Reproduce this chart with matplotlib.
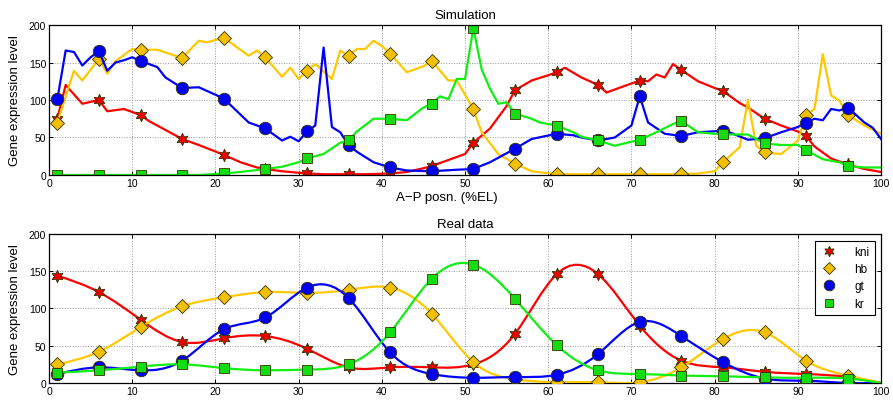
import numpy as np
import matplotlib.pyplot as plt
from matplotlib.path import Path
from matplotlib.patches import PathPatch
from matplotlib.lines import Line2D

plt.rcParams['font.family'] = ['Liberation Sans', 'DejaVu Sans']

# marker positions (every 5 %EL)
marker_x = list(range(1, 97, 5))

# ---- Simulation (top panel) ----
kni_sim_x = [1, 2, 4, 6, 7, 9, 11, 12, 14, 16, 18, 21, 23, 25, 26, 28, 31, 33, 36, 38, 41, 43, 45, 46, 48,
             50, 51, 53, 55, 56, 58, 60, 61, 62, 64, 66, 67, 69, 71, 72, 73, 74, 75, 76, 78, 80, 81, 83,
             84, 86, 88, 90, 91, 92, 94, 96, 98, 100]
kni_sim = [75, 120, 95, 100, 85, 88, 80, 72, 60, 48, 40, 27, 17, 10, 8, 5, 2, 1, 1, 1, 2, 4, 9, 12, 20,
           28, 43, 62, 92, 113, 126, 133, 137, 143, 130, 120, 110, 118, 126, 125, 134, 130, 148, 140, 125,
           116, 112, 96, 90, 75, 66, 58, 52, 38, 22, 14, 8, 4]

hb_sim_x = [1, 3, 4, 6, 7, 8, 10, 11, 13, 16, 18, 19, 21, 24, 25, 26, 28, 29, 30, 31, 32, 34, 35, 36, 37,
            38, 39, 40, 41, 43, 45, 46, 48, 49, 51, 52, 54, 56, 58, 61, 66, 71, 76, 78, 80, 81, 83, 84,
            85, 86, 88, 90, 91, 92, 93, 94, 95, 96, 98, 100]
hb_sim = [70, 139, 126, 155, 135, 152, 168, 167, 167, 156, 179, 177, 183, 159, 166, 157, 131, 143, 128,
          139, 148, 128, 166, 159, 168, 168, 179, 172, 162, 137, 145, 152, 126, 126, 88, 57, 28, 15, 5,
          1, 1, 1, 1, 2, 5, 17, 37, 100, 39, 30, 28, 46, 80, 88, 161, 106, 99, 80, 66, 55]

gt_sim_x = [1, 2, 3, 4, 5, 6, 7, 8, 9, 10, 11, 13, 14, 16, 18, 21, 24, 26, 28, 29, 30, 31, 32, 33, 34,
            35, 36, 37, 39, 41, 43, 46, 49, 51, 53, 56, 58, 61, 63, 64, 66, 68, 70, 71, 72, 74, 76, 78,
            81, 82, 84, 86, 88, 90, 91, 92, 93, 94, 95, 96, 98, 99, 100]
gt_sim = [101, 166, 164, 146, 157, 165, 139, 150, 153, 157, 152, 144, 130, 116, 117, 102, 70, 62, 46,
          51, 45, 58, 66, 170, 64, 57, 40, 31, 17, 10, 6, 5, 7, 8, 17, 35, 48, 55, 53, 50, 46, 50, 66,
          105, 70, 55, 52, 57, 59, 56, 47, 49, 57, 64, 70, 75, 73, 88, 86, 90, 70, 63, 48]

kr_sim_x = [1, 6, 11, 16, 18, 21, 23, 26, 28, 30, 31, 33, 35, 36, 37, 39, 41, 43, 45, 46, 47, 48, 49,
            50, 51, 52, 53, 54, 55, 56, 58, 59, 61, 63, 64, 66, 68, 71, 73, 75, 76, 78, 81, 84, 86, 88,
            90, 91, 93, 95, 96, 98, 100]
kr_sim = [0, 0, 0, 0, 0, 2, 4, 8, 11, 17, 22, 28, 43, 46, 58, 75, 75, 73, 90, 95, 105, 101, 128, 128,
          196, 141, 115, 95, 97, 82, 75, 70, 66, 57, 51, 46, 39, 47, 57, 68, 72, 57, 54, 54, 42, 40, 40,
          33, 21, 17, 12, 10, 10]

# ---- Real data (bottom panel), values at the markers, plus the end at 100 ----
real_x = marker_x + [100]
kni_real = [144, 122, 85, 55, 60, 63, 46, 21, 21, 21, 25, 66, 146, 146, 77, 30, 21, 15, 12, 8, 0]
hb_real = [25, 42, 75, 103, 115, 122, 121, 125, 128, 93, 28, 5, 1, 1, 1, 21, 59, 68, 30, 10, 0]
gt_real = [12, 21, 17, 30, 72, 88, 128, 114, 41, 12, 7, 8, 11, 39, 82, 63, 28, 6, 3, 0, 0]
kr_real = [14, 17, 22, 25, 20, 17, 18, 25, 68, 140, 159, 113, 51, 17, 12, 10, 9, 7.5, 7, 6, 0]

names = ['kni', 'hb', 'gt', 'kr']
line_colors = ['#ff0000', '#ffc800', '#0000ff', '#11ee11']
face_colors = ['#ee0000', '#f2c000', '#0000ee', '#11dd11']
markers = [(6, 1, 0), 'D', 'o', 's']
msizes = [9, 7, 9, 6.5]


def spline_path(x, y):
    # natural cubic spline through the points, drawn as bezier segments
    x = np.asarray(x, float)
    y = np.asarray(y, float)
    n = len(x)
    h = np.diff(x)
    A = np.zeros((n, n))
    r = np.zeros(n)
    A[0, 0] = A[-1, -1] = 1
    for i in range(1, n - 1):
        A[i, i - 1] = h[i - 1]
        A[i, i] = 2 * (h[i - 1] + h[i])
        A[i, i + 1] = h[i]
        r[i] = 6 * ((y[i + 1] - y[i]) / h[i] - (y[i] - y[i - 1]) / h[i - 1])
    M = np.linalg.solve(A, r)
    m = np.zeros(n)
    m[:-1] = np.diff(y) / h - h * (2 * M[:-1] + M[1:]) / 6
    m[-1] = (y[-1] - y[-2]) / h[-1] + h[-1] * (M[-2] + 2 * M[-1]) / 6
    verts = [(x[0], y[0])]
    codes = [Path.MOVETO]
    for i in range(n - 1):
        verts += [(x[i] + h[i] / 3, y[i] + m[i] * h[i] / 3),
                  (x[i + 1] - h[i] / 3, y[i + 1] - m[i + 1] * h[i] / 3),
                  (x[i + 1], y[i + 1])]
        codes += [Path.CURVE4] * 3
    return Path(verts, codes)


def style_axes(ax):
    ax.set_xlim(0, 100)
    ax.set_ylim(0, 200)
    ax.set_xticks(range(0, 101, 10))
    ax.set_yticks(range(0, 201, 50))
    ax.tick_params(direction='in', top=True, right=True, labelsize=7.5, length=3, width=0.7, pad=2)
    ax.grid(True, linestyle=':', color='#999999', linewidth=0.7)
    ax.set_axisbelow(True)
    for s in ax.spines.values():
        s.set_linewidth(0.9)
    ax.set_ylabel('Gene expression level', fontsize=9.5)
    ax.yaxis.set_label_coords(-0.034, 0.5)


fig = plt.figure(figsize=(8.93, 4.02), dpi=100)
ax1 = fig.add_axes([0.0549, 0.5622, 0.9317, 0.3731])
ax2 = fig.add_axes([0.0549, 0.0448, 0.9317, 0.3706])

# top panel
sim = [(kni_sim_x, kni_sim), (hb_sim_x, hb_sim), (gt_sim_x, gt_sim), (kr_sim_x, kr_sim)]
for (xs, ys), c, fc, mk, ms in zip(sim, line_colors, face_colors, markers, msizes):
    idx = [i for i, xv in enumerate(xs) if xv in marker_x]
    ax1.plot(xs, ys, color=c, lw=1.6, marker=mk, markevery=idx, ms=ms,
             markerfacecolor=fc, markeredgecolor='#333300', markeredgewidth=0.6)
style_axes(ax1)
ax1.set_title('Simulation', fontsize=9.5, pad=5)
ax1.set_xlabel('A\u2212P posn. (%EL)', fontsize=9.5)
ax1.xaxis.set_label_coords(0.478, -0.11)

# bottom panel
real = [kni_real, hb_real, gt_real, kr_real]
handles = []
for k, (ys, c, fc, mk, ms, nm) in enumerate(zip(real, line_colors, face_colors, markers, msizes, names)):
    ax2.add_patch(PathPatch(spline_path(real_x, ys), fill=False, edgecolor=c, lw=1.6, zorder=2 + k))
    ax2.plot(real_x[:-1], ys[:-1], ls='none', marker=mk, ms=ms, markerfacecolor=fc,
             markeredgecolor='#333300', markeredgewidth=0.6, zorder=2 + k)
    handles.append(Line2D([], [], ls='none', marker=mk, ms=ms * 0.85, markerfacecolor=fc,
                          markeredgecolor='#333300', markeredgewidth=0.6, label=nm))
style_axes(ax2)
ax2.set_title('Real data', fontsize=9.5, pad=5)
leg = ax2.legend(handles=handles, loc='upper right', fontsize=8.5, fancybox=False,
                 edgecolor='black', framealpha=1, handlelength=1.6, handletextpad=1.3,
                 borderpad=0.45, labelspacing=0.45, borderaxespad=0.55)
leg.get_frame().set_linewidth(0.8)
leg.set_zorder(10)

fig.savefig('out.png', dpi=100)
